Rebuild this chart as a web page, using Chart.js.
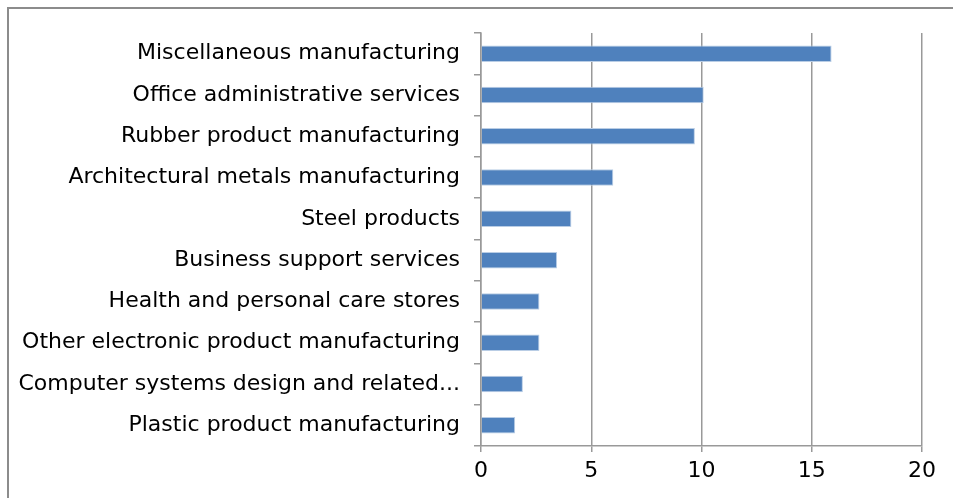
<!DOCTYPE html>
<html>
<head>
<meta charset="utf-8">
<script src="https://cdn.jsdelivr.net/npm/chart.js@4"></script>
<style>
  html, body { margin: 0; padding: 0; background: #fff; overflow: hidden; }
  #wrap { position: relative; width: 953px; height: 498px; }
  #frame { position: absolute; left: 7px; top: 7px; width: 1000px; height: 600px;
           border-left: 2px solid #8c8c8c; border-top: 2px solid #8c8c8c; pointer-events: none; }
</style>
</head>
<body>
<div id="wrap">
  <canvas id="c" width="953" height="498"></canvas>
  <div id="frame"></div>
</div>
<script>
const categories = [
  "Miscellaneous manufacturing",
  "Office administrative services",
  "Rubber product manufacturing",
  "Architectural metals manufacturing",
  "Steel products",
  "Business support services",
  "Health and personal care stores",
  "Other electronic product manufacturing",
  "Computer systems design and related...",
  "Plastic product manufacturing"
];
const values = [15.9, 10.1, 9.7, 6.0, 4.1, 3.45, 2.65, 2.65, 1.9, 1.55];
const xTicks = [0, 5, 10, 15, 20];

const FONT = { family: "DejaVu Sans", size: 22 };

new Chart(document.getElementById("c"), {
  type: "bar",
  data: {
    labels: categories,
    datasets: [{
      data: values,
      backgroundColor: "#4f81bd",
      borderColor: "#b9cde5",
      borderWidth: 1,
      borderSkipped: "start",
      barPercentage: 0.4,
      categoryPercentage: 1.0
    }]
  },
  options: {
    indexAxis: "y",
    responsive: false,
    animation: false,
    events: [],
    layout: { padding: { top: 33, right: 31, left: 0, bottom: 0 } },
    plugins: { legend: { display: false }, tooltip: { enabled: false } },
    scales: {
      x: {
        min: xTicks[0],
        max: xTicks[xTicks.length - 1],
        afterBuildTicks: (s) => { s.ticks = xTicks.map(v => ({ value: v })); },
        grid: { color: "#999999", lineWidth: 1.5, tickLength: 6, drawTicks: true },
        border: { color: "#999999", width: 1.5 },
        ticks: { color: "#000", font: FONT, padding: 6 },
        afterFit: (s) => { s.height = 52; }
      },
      y: {
        grid: { display: true, offset: true, drawOnChartArea: false, color: "#999999", lineWidth: 1.5, tickLength: 7 },
        border: { color: "#999999", width: 1.5 },
        ticks: { color: "#000", font: FONT, padding: 14, autoSkip: false },
        afterFit: (s) => { s.width = 481; }
      }
    }
  }
});
</script>
</body>
</html>
